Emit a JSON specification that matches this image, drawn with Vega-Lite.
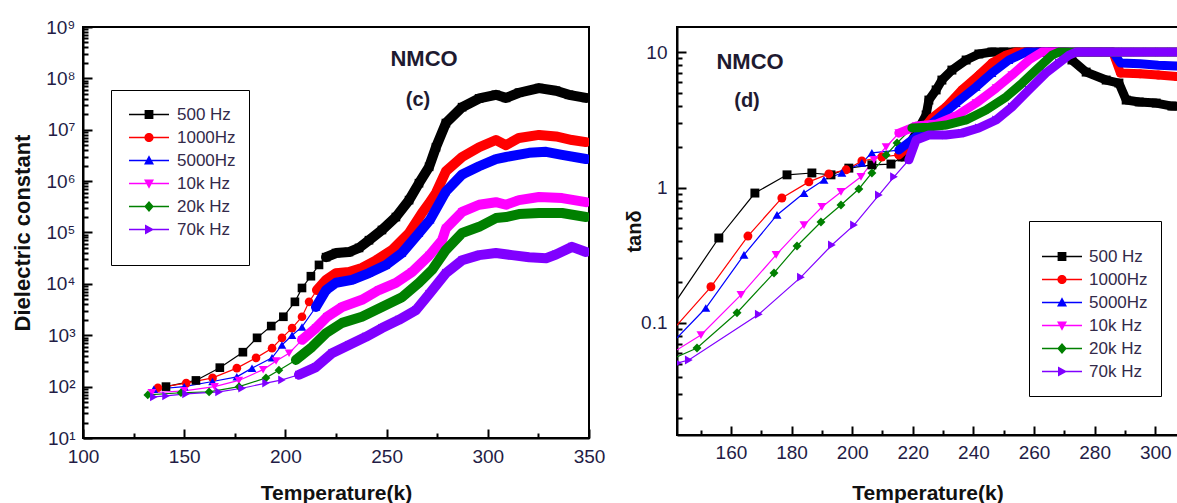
{
"$schema":"https://vega.github.io/schema/vega-lite/v6.json",
"background":"white",
"padding":{"left":10,"top":17,"right":0,"bottom":0},
"datasets":{
"eps":[
{"f":"500 Hz","T":141,"eps":100},{"f":"500 Hz","T":155.8,"eps":132},{"f":"500 Hz","T":167.6,"eps":234},{"f":"500 Hz","T":179,"eps":468},{"f":"500 Hz","T":186,"eps":891},{"f":"500 Hz","T":193,"eps":1510},{"f":"500 Hz","T":199,"eps":2290},{"f":"500 Hz","T":204.7,"eps":4470},{"f":"500 Hz","T":208.2,"eps":8320},{"f":"500 Hz","T":212.6,"eps":14100},{"f":"500 Hz","T":216.6,"eps":23400},{"f":"500 Hz","T":220.1,"eps":33100},{"f":"500 Hz","T":225,"eps":39800},{"f":"500 Hz","T":231.4,"eps":41700},{"f":"500 Hz","T":236.4,"eps":50100},{"f":"500 Hz","T":241.3,"eps":70800},{"f":"500 Hz","T":247.7,"eps":112000},{"f":"500 Hz","T":254.6,"eps":200000},{"f":"500 Hz","T":261.1,"eps":427000},{"f":"500 Hz","T":266,"eps":912000},{"f":"500 Hz","T":271,"eps":1900000},{"f":"500 Hz","T":274.4,"eps":4570000},{"f":"500 Hz","T":279.3,"eps":13500000},{"f":"500 Hz","T":287.3,"eps":27500000},{"f":"500 Hz","T":295.7,"eps":40700000},{"f":"500 Hz","T":304,"eps":47900000},{"f":"500 Hz","T":309,"eps":41700000},{"f":"500 Hz","T":315.4,"eps":52500000},{"f":"500 Hz","T":325.3,"eps":64600000},{"f":"500 Hz","T":333.7,"eps":57500000},{"f":"500 Hz","T":340.1,"eps":47900000},{"f":"500 Hz","T":348.5,"eps":41700000},
{"f":"1000Hz","T":137,"eps":95},{"f":"1000Hz","T":151,"eps":117},{"f":"1000Hz","T":164,"eps":148},{"f":"1000Hz","T":176,"eps":229},{"f":"1000Hz","T":185.5,"eps":363},{"f":"1000Hz","T":193.4,"eps":560},{"f":"1000Hz","T":198.3,"eps":891},{"f":"1000Hz","T":203.3,"eps":1380},{"f":"1000Hz","T":208.2,"eps":2290},{"f":"1000Hz","T":211.7,"eps":4470},{"f":"1000Hz","T":215.6,"eps":7590},{"f":"1000Hz","T":220.1,"eps":12000},{"f":"1000Hz","T":225,"eps":16200},{"f":"1000Hz","T":231.4,"eps":17000},{"f":"1000Hz","T":237.8,"eps":20400},{"f":"1000Hz","T":244.8,"eps":28800},{"f":"1000Hz","T":252.7,"eps":45700},{"f":"1000Hz","T":261.1,"eps":97700},{"f":"1000Hz","T":267.5,"eps":240000},{"f":"1000Hz","T":271,"eps":372000},{"f":"1000Hz","T":274.4,"eps":589000},{"f":"1000Hz","T":279.3,"eps":1550000},{"f":"1000Hz","T":287.3,"eps":2950000},{"f":"1000Hz","T":295.7,"eps":4570000},{"f":"1000Hz","T":304,"eps":6310000},{"f":"1000Hz","T":309,"eps":5010000},{"f":"1000Hz","T":315.4,"eps":6920000},{"f":"1000Hz","T":325.3,"eps":7940000},{"f":"1000Hz","T":333.7,"eps":7410000},{"f":"1000Hz","T":341.6,"eps":6310000},{"f":"1000Hz","T":348.5,"eps":5750000},
{"f":"5000Hz","T":135,"eps":89},{"f":"5000Hz","T":150,"eps":100},{"f":"5000Hz","T":164,"eps":126},{"f":"5000Hz","T":176,"eps":155},{"f":"5000Hz","T":183.5,"eps":229},{"f":"5000Hz","T":193.4,"eps":363},{"f":"5000Hz","T":198.3,"eps":646},{"f":"5000Hz","T":203.3,"eps":1000},{"f":"5000Hz","T":208.2,"eps":1450},{"f":"5000Hz","T":215.1,"eps":3550},{"f":"5000Hz","T":220.1,"eps":7590},{"f":"5000Hz","T":225,"eps":10500},{"f":"5000Hz","T":232.9,"eps":12000},{"f":"5000Hz","T":241.3,"eps":16200},{"f":"5000Hz","T":249.7,"eps":23400},{"f":"5000Hz","T":257.6,"eps":39800},{"f":"5000Hz","T":266,"eps":97700},{"f":"5000Hz","T":271.5,"eps":178000},{"f":"5000Hz","T":279.3,"eps":631000},{"f":"5000Hz","T":287.3,"eps":1350000},{"f":"5000Hz","T":295.7,"eps":1950000},{"f":"5000Hz","T":304,"eps":2690000},{"f":"5000Hz","T":309,"eps":2950000},{"f":"5000Hz","T":320.4,"eps":3550000},{"f":"5000Hz","T":328.8,"eps":3720000},{"f":"5000Hz","T":336.7,"eps":3240000},{"f":"5000Hz","T":348.5,"eps":2690000},
{"f":"10k Hz","T":134,"eps":76},{"f":"10k Hz","T":150,"eps":83},{"f":"10k Hz","T":165,"eps":100},{"f":"10k Hz","T":177,"eps":132},{"f":"10k Hz","T":189,"eps":214},{"f":"10k Hz","T":195.4,"eps":316},{"f":"10k Hz","T":201.8,"eps":447},{"f":"10k Hz","T":208.2,"eps":813},{"f":"10k Hz","T":215.1,"eps":1380},{"f":"10k Hz","T":220.6,"eps":2290},{"f":"10k Hz","T":228,"eps":3550},{"f":"10k Hz","T":237.8,"eps":4900},{"f":"10k Hz","T":246.2,"eps":7590},{"f":"10k Hz","T":254.6,"eps":10500},{"f":"10k Hz","T":262.5,"eps":17000},{"f":"10k Hz","T":271,"eps":35500},{"f":"10k Hz","T":277.4,"eps":70800},{"f":"10k Hz","T":279.3,"eps":120000},{"f":"10k Hz","T":287.3,"eps":251000},{"f":"10k Hz","T":295.7,"eps":347000},{"f":"10k Hz","T":304,"eps":389000},{"f":"10k Hz","T":309,"eps":347000},{"f":"10k Hz","T":315.4,"eps":427000},{"f":"10k Hz","T":325.3,"eps":490000},{"f":"10k Hz","T":336.7,"eps":468000},{"f":"10k Hz","T":348.5,"eps":389000},
{"f":"20k Hz","T":132,"eps":69},{"f":"20k Hz","T":148.4,"eps":76},{"f":"20k Hz","T":162.3,"eps":79},{"f":"20k Hz","T":177.1,"eps":100},{"f":"20k Hz","T":190.4,"eps":148},{"f":"20k Hz","T":196.8,"eps":209},{"f":"20k Hz","T":205.2,"eps":331},{"f":"20k Hz","T":213.1,"eps":589},{"f":"20k Hz","T":220.1,"eps":1100},{"f":"20k Hz","T":228,"eps":1740},{"f":"20k Hz","T":237.8,"eps":2290},{"f":"20k Hz","T":247.7,"eps":3550},{"f":"20k Hz","T":257.6,"eps":5500},{"f":"20k Hz","T":266,"eps":10500},{"f":"20k Hz","T":272.4,"eps":18600},{"f":"20k Hz","T":279.3,"eps":45700},{"f":"20k Hz","T":287.3,"eps":97700},{"f":"20k Hz","T":295.7,"eps":129000},{"f":"20k Hz","T":304,"eps":191000},{"f":"20k Hz","T":309,"eps":200000},{"f":"20k Hz","T":315.4,"eps":229000},{"f":"20k Hz","T":325.3,"eps":240000},{"f":"20k Hz","T":336.7,"eps":240000},{"f":"20k Hz","T":348.5,"eps":200000},
{"f":"70k Hz","T":135,"eps":63},{"f":"70k Hz","T":141,"eps":66},{"f":"70k Hz","T":150.9,"eps":72},{"f":"70k Hz","T":167.2,"eps":79},{"f":"70k Hz","T":178.6,"eps":93},{"f":"70k Hz","T":190.4,"eps":117},{"f":"70k Hz","T":198.3,"eps":135},{"f":"70k Hz","T":206.7,"eps":170},{"f":"70k Hz","T":215.1,"eps":240},{"f":"70k Hz","T":223,"eps":447},{"f":"70k Hz","T":231.4,"eps":646},{"f":"70k Hz","T":239.8,"eps":933},{"f":"70k Hz","T":247.7,"eps":1380},{"f":"70k Hz","T":256.1,"eps":2000},{"f":"70k Hz","T":264.5,"eps":3090},{"f":"70k Hz","T":271,"eps":6310},{"f":"70k Hz","T":279.3,"eps":16200},{"f":"70k Hz","T":287.3,"eps":28800},{"f":"70k Hz","T":295.7,"eps":36300},{"f":"70k Hz","T":304,"eps":39800},{"f":"70k Hz","T":312,"eps":36300},{"f":"70k Hz","T":320.4,"eps":33100},{"f":"70k Hz","T":328.8,"eps":31600},{"f":"70k Hz","T":333.7,"eps":37200},{"f":"70k Hz","T":341.6,"eps":52500},{"f":"70k Hz","T":348.5,"eps":41700}
],
"tan":[
{"f":"500 Hz","T":140,"tan":0.126},{"f":"500 Hz","T":156,"tan":0.424},{"f":"500 Hz","T":167.9,"tan":0.91},{"f":"500 Hz","T":178.5,"tan":1.24},{"f":"500 Hz","T":186.7,"tan":1.28},{"f":"500 Hz","T":193,"tan":1.24},{"f":"500 Hz","T":198.9,"tan":1.39},{"f":"500 Hz","T":206.5,"tan":1.47},{"f":"500 Hz","T":212.8,"tan":1.49},{"f":"500 Hz","T":216.4,"tan":1.68},{"f":"500 Hz","T":221.1,"tan":2.52},{"f":"500 Hz","T":224.4,"tan":3.43},{"f":"500 Hz","T":225.3,"tan":4.42},{"f":"500 Hz","T":227.7,"tan":5.25},{"f":"500 Hz","T":229.6,"tan":6.21},{"f":"500 Hz","T":232.9,"tan":7.36},{"f":"500 Hz","T":237.6,"tan":8.73},{"f":"500 Hz","T":241.8,"tan":9.67},{"f":"500 Hz","T":246.1,"tan":10},{"f":"500 Hz","T":250,"tan":10},{"f":"500 Hz","T":254,"tan":10},{"f":"500 Hz","T":258,"tan":10},{"f":"500 Hz","T":262,"tan":10},{"f":"500 Hz","T":266,"tan":10},{"f":"500 Hz","T":270,"tan":10},{"f":"500 Hz","T":272.5,"tan":8.73},{"f":"500 Hz","T":277.2,"tan":7.11},{"f":"500 Hz","T":283.8,"tan":6.21},{"f":"500 Hz","T":288,"tan":5.9},{"f":"500 Hz","T":290.4,"tan":4.42},{"f":"500 Hz","T":294.7,"tan":4.28},{"f":"500 Hz","T":300.3,"tan":4.2},{"f":"500 Hz","T":305.5,"tan":3.99},{"f":"500 Hz","T":309,"tan":3.95},
{"f":"1000Hz","T":140,"tan":0.085},{"f":"1000Hz","T":153.4,"tan":0.185},{"f":"1000Hz","T":165.6,"tan":0.438},{"f":"1000Hz","T":176.8,"tan":0.837},{"f":"1000Hz","T":185.7,"tan":1.1},{"f":"1000Hz","T":192.3,"tan":1.26},{"f":"1000Hz","T":198,"tan":1.35},{"f":"1000Hz","T":203.2,"tan":1.57},{"f":"1000Hz","T":209.8,"tan":1.68},{"f":"1000Hz","T":215.4,"tan":1.74},{"f":"1000Hz","T":219.7,"tan":2.13},{"f":"1000Hz","T":226.3,"tan":3.26},{"f":"1000Hz","T":230.9,"tan":3.93},{"f":"1000Hz","T":236.2,"tan":5.25},{"f":"1000Hz","T":241.8,"tan":6.76},{"f":"1000Hz","T":246.1,"tan":8.3},{"f":"1000Hz","T":250.8,"tan":9.5},{"f":"1000Hz","T":254,"tan":10},{"f":"1000Hz","T":258,"tan":10},{"f":"1000Hz","T":262,"tan":10},{"f":"1000Hz","T":266,"tan":10},{"f":"1000Hz","T":270,"tan":10},{"f":"1000Hz","T":274,"tan":10},{"f":"1000Hz","T":278,"tan":10},{"f":"1000Hz","T":282,"tan":10},{"f":"1000Hz","T":286,"tan":10},{"f":"1000Hz","T":288.5,"tan":7},{"f":"1000Hz","T":295,"tan":6.9},{"f":"1000Hz","T":301,"tan":6.76},{"f":"1000Hz","T":307,"tan":6.6},{"f":"1000Hz","T":309,"tan":6.55},
{"f":"5000Hz","T":140,"tan":0.069},{"f":"5000Hz","T":151.7,"tan":0.129},{"f":"5000Hz","T":164.3,"tan":0.318},{"f":"5000Hz","T":175.2,"tan":0.627},{"f":"5000Hz","T":184.1,"tan":0.91},{"f":"5000Hz","T":190.7,"tan":1.14},{"f":"5000Hz","T":196.6,"tan":1.28},{"f":"5000Hz","T":203.2,"tan":1.52},{"f":"5000Hz","T":206.5,"tan":1.8},{"f":"5000Hz","T":215.4,"tan":1.89},{"f":"5000Hz","T":219.7,"tan":2.24},{"f":"5000Hz","T":227.7,"tan":3.15},{"f":"5000Hz","T":234.3,"tan":4.2},{"f":"5000Hz","T":240.9,"tan":5.52},{"f":"5000Hz","T":246.1,"tan":7},{"f":"5000Hz","T":251.7,"tan":8.73},{"f":"5000Hz","T":257.4,"tan":10},{"f":"5000Hz","T":262,"tan":10},{"f":"5000Hz","T":266,"tan":10},{"f":"5000Hz","T":270,"tan":10},{"f":"5000Hz","T":274,"tan":10},{"f":"5000Hz","T":278,"tan":10},{"f":"5000Hz","T":282,"tan":10},{"f":"5000Hz","T":286,"tan":10},{"f":"5000Hz","T":288.5,"tan":8.3},{"f":"5000Hz","T":295,"tan":8.2},{"f":"5000Hz","T":301,"tan":8},{"f":"5000Hz","T":307,"tan":7.9},{"f":"5000Hz","T":309,"tan":7.85},
{"f":"10k Hz","T":140,"tan":0.059},{"f":"10k Hz","T":150.1,"tan":0.0815},{"f":"10k Hz","T":163.3,"tan":0.161},{"f":"10k Hz","T":174.9,"tan":0.318},{"f":"10k Hz","T":184.1,"tan":0.528},{"f":"10k Hz","T":190,"tan":0.718},{"f":"10k Hz","T":196.3,"tan":0.927},{"f":"10k Hz","T":202.9,"tan":1.2},{"f":"10k Hz","T":207.2,"tan":1.6},{"f":"10k Hz","T":211.2,"tan":1.99},{"f":"10k Hz","T":215.4,"tan":2.52},{"f":"10k Hz","T":221.1,"tan":2.84},{"f":"10k Hz","T":227.7,"tan":2.94},{"f":"10k Hz","T":234.3,"tan":3.37},{"f":"10k Hz","T":240.9,"tan":4.2},{"f":"10k Hz","T":247.5,"tan":5.42},{"f":"10k Hz","T":252.7,"tan":6.76},{"f":"10k Hz","T":258.3,"tan":8.73},{"f":"10k Hz","T":262.6,"tan":10},{"f":"10k Hz","T":266,"tan":10},{"f":"10k Hz","T":270,"tan":10},{"f":"10k Hz","T":274,"tan":10},{"f":"10k Hz","T":278,"tan":10},{"f":"10k Hz","T":282,"tan":10},{"f":"10k Hz","T":286,"tan":10},{"f":"10k Hz","T":290,"tan":10},{"f":"10k Hz","T":294,"tan":10},{"f":"10k Hz","T":298,"tan":10},{"f":"10k Hz","T":302,"tan":10},{"f":"10k Hz","T":306,"tan":10},{"f":"10k Hz","T":309,"tan":10},
{"f":"20k Hz","T":140,"tan":0.0535},{"f":"20k Hz","T":148.8,"tan":0.0653},{"f":"20k Hz","T":162,"tan":0.119},{"f":"20k Hz","T":174.2,"tan":0.234},{"f":"20k Hz","T":181.8,"tan":0.37},{"f":"20k Hz","T":189.7,"tan":0.556},{"f":"20k Hz","T":196.3,"tan":0.743},{"f":"20k Hz","T":202.2,"tan":0.975},{"f":"20k Hz","T":206.5,"tan":1.28},{"f":"20k Hz","T":211.2,"tan":1.74},{"f":"20k Hz","T":214.8,"tan":2.13},{"f":"20k Hz","T":219.7,"tan":2.75},{"f":"20k Hz","T":225.3,"tan":2.79},{"f":"20k Hz","T":230.9,"tan":2.89},{"f":"20k Hz","T":237.6,"tan":3.15},{"f":"20k Hz","T":244.2,"tan":3.73},{"f":"20k Hz","T":250.8,"tan":4.66},{"f":"20k Hz","T":256.1,"tan":5.9},{"f":"20k Hz","T":261.7,"tan":7.75},{"f":"20k Hz","T":266,"tan":9.5},{"f":"20k Hz","T":268.2,"tan":10},{"f":"20k Hz","T":272,"tan":10},{"f":"20k Hz","T":276,"tan":10},{"f":"20k Hz","T":280,"tan":10},{"f":"20k Hz","T":284,"tan":10},{"f":"20k Hz","T":288,"tan":10},{"f":"20k Hz","T":292,"tan":10},{"f":"20k Hz","T":296,"tan":10},{"f":"20k Hz","T":300,"tan":10},{"f":"20k Hz","T":304,"tan":10},{"f":"20k Hz","T":309,"tan":10},
{"f":"70k Hz","T":142.5,"tan":0.0507},{"f":"70k Hz","T":146.1,"tan":0.0533},{"f":"70k Hz","T":169.2,"tan":0.116},{"f":"70k Hz","T":183.1,"tan":0.218},{"f":"70k Hz","T":193.3,"tan":0.376},{"f":"70k Hz","T":200.6,"tan":0.528},{"f":"70k Hz","T":208.8,"tan":0.88},{"f":"70k Hz","T":213.8,"tan":1.2},{"f":"70k Hz","T":218.7,"tan":1.6},{"f":"70k Hz","T":221.1,"tan":2.24},{"f":"70k Hz","T":225.3,"tan":2.44},{"f":"70k Hz","T":230.9,"tan":2.44},{"f":"70k Hz","T":236.2,"tan":2.52},{"f":"70k Hz","T":241.8,"tan":2.75},{"f":"70k Hz","T":247.5,"tan":3.15},{"f":"70k Hz","T":252.7,"tan":3.93},{"f":"70k Hz","T":258.3,"tan":5.25},{"f":"70k Hz","T":263.9,"tan":7},{"f":"70k Hz","T":268.2,"tan":8.3},{"f":"70k Hz","T":271.6,"tan":9.5},{"f":"70k Hz","T":273.9,"tan":10},{"f":"70k Hz","T":278,"tan":10},{"f":"70k Hz","T":282,"tan":10},{"f":"70k Hz","T":286,"tan":10},{"f":"70k Hz","T":290,"tan":10},{"f":"70k Hz","T":294,"tan":10},{"f":"70k Hz","T":298,"tan":10},{"f":"70k Hz","T":302,"tan":10},{"f":"70k Hz","T":306,"tan":10},{"f":"70k Hz","T":309,"tan":10}
]
},
"hconcat":[
{
"width":506,"height":411,
"data":{"name":"eps"},
"encoding":{
"x":{"field":"T","type":"quantitative","scale":{"domain":[100,350],"nice":false,"zero":false},
"axis":{"values":[100,125,150,175,200,225,250,275,300,325,350],"format":"d","labelExpr":"datum.value % 50 == 0 ? datum.label : ''","tickSize":{"condition":{"test":"datum.value % 50 == 0","value":-9},"value":-5},"labelPadding":18,"labelFlush":false,"labelOverlap":false,"title":"Temperature(k)","titleFontSize":21,"titlePadding":12}},
"y":{"field":"eps","type":"quantitative","scale":{"type":"log","domain":[10,1000000000],"nice":false},
"axis":{"values":[10,20,30,40,50,60,70,80,90,100,200,300,400,500,600,700,800,900,1000,2000,3000,4000,5000,6000,7000,8000,9000,10000,20000,30000,40000,50000,60000,70000,80000,90000,100000,200000,300000,400000,500000,600000,700000,800000,900000,1000000,2000000,3000000,4000000,5000000,6000000,7000000,8000000,9000000,10000000,20000000,30000000,40000000,50000000,60000000,70000000,80000000,90000000,100000000,200000000,300000000,400000000,500000000,600000000,700000000,800000000,900000000,1000000000],
"labelExpr":"datum.value == 10 ? '10¹' : datum.value == 100 ? '10²' : datum.value == 1000 ? '10³' : datum.value == 10000 ? '10⁴' : datum.value == 100000 ? '10⁵' : datum.value == 1000000 ? '10⁶' : datum.value == 10000000 ? '10⁷' : datum.value == 100000000 ? '10⁸' : datum.value == 1000000000 ? '10⁹' : ''",
"tickSize":{"condition":{"test":"abs(log(datum.value)/LN10 - round(log(datum.value)/LN10)) < 0.001","value":-9},"value":-5},
"labelPadding":17,"labelOverlap":false,"title":"Dielectric constant","titleFontSize":22,"titlePadding":11}}
},
"layer":[
{"mark":{"type":"line","strokeWidth":1.2,"clip":true},
"encoding":{"color":{"field":"f","type":"nominal","scale":{"domain":["500 Hz","1000Hz","5000Hz","10k Hz","20k Hz","70k Hz"],"range":["#000000","#ff0000","#0000ff","#ff00ff","#008000","#8000ff"]},"legend":null}}},
{"mark":{"type":"point","filled":true,"size":75,"opacity":1,"clip":true},
"encoding":{"color":{"field":"f","type":"nominal","legend":null},
"shape":{"field":"f","type":"nominal","scale":{"domain":["500 Hz","1000Hz","5000Hz","10k Hz","20k Hz","70k Hz"],"range":["square","circle","triangle-up","triangle-down","diamond","triangle-right"]},"legend":null}}},
{"transform":[{"filter":"datum.T >= (datum.f == '500 Hz' ? 220 : datum.f == '1000Hz' ? 214 : datum.f == '5000Hz' ? 212 : 205)"}],
"mark":{"type":"line","strokeWidth":10,"strokeJoin":"round","strokeCap":"round","clip":true},
"encoding":{"color":{"field":"f","type":"nominal","legend":null}}},
{"mark":{"type":"point","filled":true,"opacity":0},
"encoding":{
"color":{"field":"f","type":"nominal","legend":{"orient":"none","legendX":28,"legendY":63,"title":" ","titleOrient":"bottom","titleFontSize":10,"titlePadding":1,"symbolSize":1600,"clipHeight":23,"rowPadding":0,"symbolOffset":5,"labelOffset":8,"labelFont":"Liberation Sans","labelFontSize":17,"labelColor":"#332a4a","strokeColor":"black","padding":13,"symbolStrokeWidth":0,"symbolOpacity":1,"labelLimit":300}},
"shape":{"field":"f","type":"nominal","scale":{"domain":["500 Hz","1000Hz","5000Hz","10k Hz","20k Hz","70k Hz"],"range":["M-1,-0.035H1V0.035H-1Z M-0.22,-0.22H0.22V0.22H-0.22Z","M-1,-0.035H1V0.035H-1Z M-0.23,0A0.23,0.23 0 1,1 0.23,0A0.23,0.23 0 1,1 -0.23,0Z","M-1,-0.035H1V0.035H-1Z M0,-0.26L0.25,0.2H-0.25Z","M-1,-0.035H1V0.035H-1Z M0,0.26L-0.25,-0.2H0.25Z","M-1,-0.035H1V0.035H-1Z M0,-0.27L0.24,0L0,0.27L-0.24,0Z","M-1,-0.035H1V0.035H-1Z M0.26,0L-0.2,0.25V-0.25Z"]},
"legend":{"orient":"none","legendX":28,"legendY":63,"title":" ","titleOrient":"bottom","titleFontSize":10,"titlePadding":1,"symbolSize":1600,"clipHeight":23,"rowPadding":0,"symbolOffset":5,"labelOffset":8,"labelFont":"Liberation Sans","labelFontSize":17,"labelColor":"#332a4a","strokeColor":"black","padding":13,"symbolStrokeWidth":0,"symbolOpacity":1,"labelLimit":300}}}},
{"data":{"values":[{"T":268.5,"eps":240000000,"label":"NMCO"}]},"mark":{"type":"text","font":"Liberation Sans","fontSize":22,"fontWeight":"bold","color":"#1e1a30","align":"center","baseline":"middle"},
"encoding":{"text":{"field":"label"}}},
{"data":{"values":[{"T":265.5,"eps":38000000,"label":"(c)"}]},"mark":{"type":"text","font":"Liberation Sans","fontSize":20,"fontWeight":"bold","color":"#1e1a30","align":"center","baseline":"middle"},
"encoding":{"text":{"field":"label"}}}
],
"resolve":{"scale":{"shape":"independent"},"legend":{"shape":"independent","color":"independent"}}
},
{
"width":501,"height":408,
"data":{"name":"tan"},
"encoding":{
"x":{"field":"T","type":"quantitative","scale":{"domain":[142.2,307.5],"nice":false,"zero":false},
"axis":{"values":[150,160,170,180,190,200,210,220,230,240,250,260,270,280,290,300],"format":"d","labelExpr":"datum.value % 20 == 0 ? datum.label : ''","tickSize":{"condition":{"test":"datum.value % 20 == 0","value":-9},"value":-5},"labelPadding":17,"labelFlush":false,"labelOverlap":false,"title":"Temperature(k)","titleFontSize":21,"titlePadding":16}},
"y":{"field":"tan","type":"quantitative","scale":{"type":"log","domain":[0.0149,15.3],"nice":false},
"axis":{"values":[0.02,0.03,0.04,0.05,0.06,0.07,0.08,0.09,0.1,0.2,0.3,0.4,0.5,0.6,0.7,0.8,0.9,1,2,3,4,5,6,7,8,9,10],
"labelExpr":"datum.value == 0.1 ? '0.1' : datum.value == 1 ? '1' : datum.value == 10 ? '10' : ''",
"tickSize":{"condition":{"test":"datum.value == 0.1 || datum.value == 1 || datum.value == 10","value":-9},"value":-5},
"labelPadding":19,"labelOverlap":false,"title":"tanδ","titleFontSize":20,"titlePadding":-4}}
},
"layer":[
{"mark":{"type":"line","strokeWidth":1.2,"clip":true},
"encoding":{"color":{"field":"f","type":"nominal","scale":{"domain":["500 Hz","1000Hz","5000Hz","10k Hz","20k Hz","70k Hz"],"range":["#000000","#ff0000","#0000ff","#ff00ff","#008000","#8000ff"]},"legend":null}}},
{"mark":{"type":"point","filled":true,"size":80,"opacity":1,"clip":true},
"encoding":{"color":{"field":"f","type":"nominal","legend":null},
"shape":{"field":"f","type":"nominal","scale":{"domain":["500 Hz","1000Hz","5000Hz","10k Hz","20k Hz","70k Hz"],"range":["square","circle","triangle-up","triangle-down","diamond","triangle-right"]},"legend":null}}},
{"transform":[{"filter":"datum.T >= 215"}],
"mark":{"type":"line","strokeWidth":9,"strokeJoin":"round","strokeCap":"round","clip":true},
"encoding":{"color":{"field":"f","type":"nominal","legend":null}}},
{"mark":{"type":"point","filled":true,"opacity":0},
"encoding":{
"color":{"field":"f","type":"nominal","legend":{"orient":"none","legendX":352,"legendY":194,"title":" ","titleOrient":"top","titleFontSize":10,"titlePadding":1,"symbolSize":1600,"clipHeight":23,"rowPadding":0,"symbolOffset":0,"labelOffset":7,"labelFont":"Liberation Sans","labelFontSize":17,"labelColor":"#332a4a","strokeColor":"black","padding":13,"symbolStrokeWidth":0,"symbolOpacity":1,"labelLimit":300}},
"shape":{"field":"f","type":"nominal","scale":{"domain":["500 Hz","1000Hz","5000Hz","10k Hz","20k Hz","70k Hz"],"range":["M-1,-0.035H1V0.035H-1Z M-0.22,-0.22H0.22V0.22H-0.22Z","M-1,-0.035H1V0.035H-1Z M-0.23,0A0.23,0.23 0 1,1 0.23,0A0.23,0.23 0 1,1 -0.23,0Z","M-1,-0.035H1V0.035H-1Z M0,-0.26L0.25,0.2H-0.25Z","M-1,-0.035H1V0.035H-1Z M0,0.26L-0.25,-0.2H0.25Z","M-1,-0.035H1V0.035H-1Z M0,-0.27L0.24,0L0,0.27L-0.24,0Z","M-1,-0.035H1V0.035H-1Z M0.26,0L-0.2,0.25V-0.25Z"]},
"legend":{"orient":"none","legendX":352,"legendY":194,"title":" ","titleOrient":"top","titleFontSize":10,"titlePadding":1,"symbolSize":1600,"clipHeight":23,"rowPadding":0,"symbolOffset":0,"labelOffset":7,"labelFont":"Liberation Sans","labelFontSize":17,"labelColor":"#332a4a","strokeColor":"black","padding":13,"symbolStrokeWidth":0,"symbolOpacity":1,"labelLimit":300}}}},
{"data":{"values":[{"T":166.3,"tan":8.44,"label":"NMCO"}]},"mark":{"type":"text","font":"Liberation Sans","fontSize":22,"fontWeight":"bold","color":"#1e1a30","align":"center","baseline":"middle"},
"encoding":{"text":{"field":"label"}}},
{"data":{"values":[{"T":165.3,"tan":4.35,"label":"(d)"}]},"mark":{"type":"text","font":"Liberation Sans","fontSize":20,"fontWeight":"bold","color":"#1e1a30","align":"center","baseline":"middle"},
"encoding":{"text":{"field":"label"}}}
],
"resolve":{"scale":{"shape":"independent"},"legend":{"shape":"independent","color":"independent"}}
}
],
"spacing":88,
"bounds":"flush",
"resolve":{"scale":{"x":"independent","y":"independent","color":"independent","shape":"independent"},"legend":{"color":"independent","shape":"independent"}},
"config":{
"font":"Liberation Sans",
"view":{"stroke":"black","strokeWidth":2},
"axis":{"grid":false,"domainColor":"black","domainWidth":2,"tickColor":"black","tickWidth":2,"labelFont":"Liberation Sans","labelFontSize":19,"labelColor":"#231c45","titleFont":"Liberation Sans","titleFontWeight":"bold","titleColor":"#111111"}
}
}
